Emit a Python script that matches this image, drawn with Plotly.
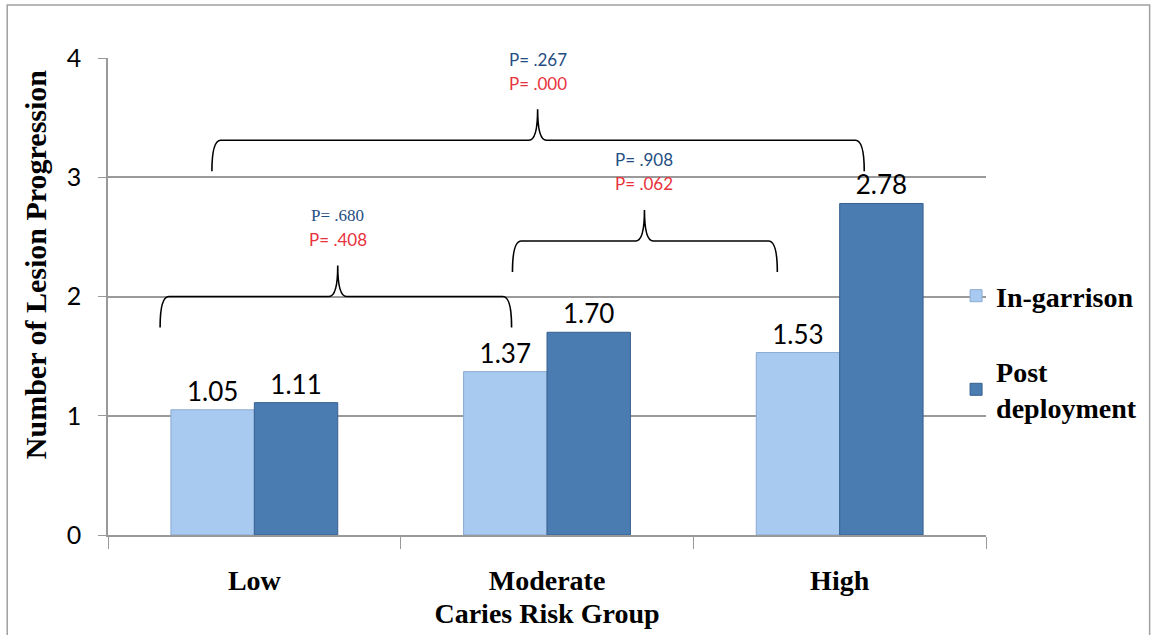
import plotly.graph_objects as go

categories = ["Low", "Moderate", "High"]
in_garrison = [1.05, 1.37, 1.53]
post_deployment = [1.11, 1.70, 2.78]
series_names = ["In-garrison", "Post<br>deployment"]
y_ticks = [0, 1, 2, 3, 4]

# comparison brackets: (x start, x end, x middle in category units, y line, p blue, p red, blue font)
brackets = [
    (-0.322, 0.879, 0.285, 2.00, "P= .680", "P= .408", "Liberation Serif"),
    (0.882, 1.787, 1.333, 2.465, "P= .908", "P= .062", "Lato"),
    (-0.145, 2.084, 0.968, 3.31, "P= .267", "P= .000", "Lato"),
]

W, H = 1154, 635
L, R, T, B = 108, 166, 58, 100

fig = go.Figure()
fig.add_trace(go.Bar(
    x=categories, y=in_garrison, name="<b>" + series_names[0] + "</b>", legendgroup="a",
    marker=dict(color="#A8CAF0", line=dict(color="#8AAAD0", width=1)),
    texttemplate="%{y:.2f}", textposition="outside",
    textfont=dict(family="Lato", size=26, color="black"), cliponaxis=False,
))
fig.add_trace(go.Bar(
    x=categories, y=post_deployment, name="<b>" + series_names[1] + "</b>", legendgroup="b",
    marker=dict(color="#4A7CB2", line=dict(color="#36608F", width=1)),
    texttemplate="%{y:.2f}", textposition="outside",
    textfont=dict(family="Lato", size=26, color="black"), cliponaxis=False,
))

pw = W - L - R
ph = H - T - B

shapes = []
annotations = []
for (x0, x1, xm, yl, pb, pr, fb) in brackets:
    dy_end = -0.26
    dy_tip = 0.26
    rx = 0.03
    path = (f"M {x0},{yl+dy_end} Q {x0},{yl} {x0+rx},{yl} "
            f"L {xm-rx},{yl} Q {xm},{yl} {xm},{yl+dy_tip} "
            f"Q {xm},{yl} {xm+rx},{yl} L {x1-rx},{yl} Q {x1},{yl} {x1},{yl+dy_end}")
    shapes.append(dict(type="path", path=path, xref="x", yref="y",
                       line=dict(color="black", width=1.6)))
    annotations.append(dict(x=xm, y=yl + dy_tip + 0.42, xref="x", yref="y",
                            text=pb, showarrow=False,
                            font=dict(family=fb, size=17, color="#1F4E82")))
    annotations.append(dict(x=xm, y=yl + dy_tip + 0.22, xref="x", yref="y",
                            text=pr, showarrow=False,
                            font=dict(family="Lato", size=17, color="#E8323C")))

# outer frame
shapes.append(dict(type="rect", xref="paper", yref="paper",
                   x0=(7 - L) / pw, x1=(1152 - L) / pw,
                   y0=-0.3, y1=(H - B - 5) / ph,
                   line=dict(color="#A0A0A0", width=1.5)))

annotations.append(dict(text="<b>Number of Lesion Progression</b>", textangle=-90,
                        xref="paper", yref="paper", x=(35 - L) / pw, y=(H - B - 265) / ph,
                        xanchor="center", yanchor="middle",
                        showarrow=False,
                        font=dict(family="Liberation Serif", size=30, color="black")))

fig.update_layout(
    width=W, height=H,
    margin=dict(l=L, r=R, t=T, b=B),
    plot_bgcolor="white", paper_bgcolor="white",
    barmode="group", bargap=0.43, bargroupgap=0,
    shapes=shapes, annotations=annotations,
    legend=dict(x=(958 - L) / pw, y=(535 - 271) / ph, xanchor="left", yanchor="top",
                font=dict(family="Liberation Serif", size=28, color="black"),
                tracegroupgap=36, bgcolor="rgba(0,0,0,0)"),
    xaxis=dict(
        tickfont=dict(family="Liberation Serif", size=28, color="black"),
        tickvals=categories, ticktext=["<b>" + c + "</b>" for c in categories],
        ticks="outside", tickson="boundaries", ticklen=12, tickcolor="#999999",
        showline=True, linecolor="#999999", linewidth=1.5,
        ticklabelstandoff=20,
        title=dict(text="<b>Caries Risk Group</b>", standoff=8,
                   font=dict(family="Liberation Serif", size=28, color="black")),
        range=[-0.5, 2.5],
    ),
    yaxis=dict(
        range=[0, 4], tickvals=y_ticks,
        tickfont=dict(family="Lato", size=25, color="black"),
        showgrid=True, gridcolor="#9A9A9A", gridwidth=1.5,
        showline=True, linecolor="#999999", linewidth=1.5,
        ticks="outside", ticklen=8, tickcolor="#999999",
        ticklabelstandoff=12,
        zeroline=False,
    ),
)

fig.write_html("out.html")
